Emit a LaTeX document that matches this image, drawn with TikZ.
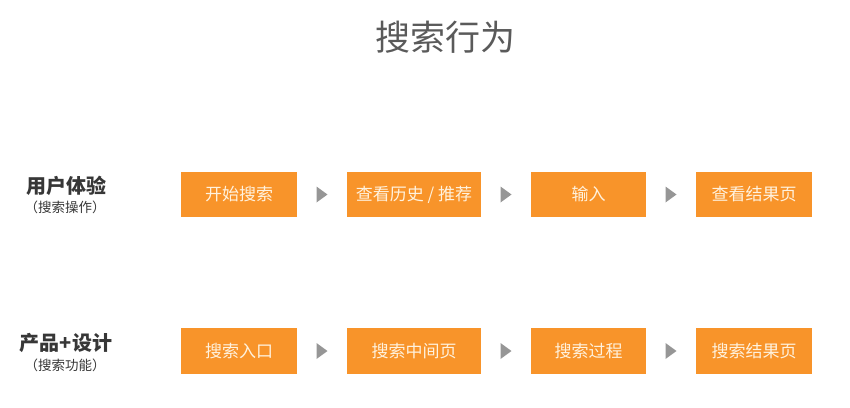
\documentclass[tikz,border=0pt]{standalone}
\usepackage{fontspec}
\usepackage{xcolor}
\setmainfont{Noto Sans CJK SC}
\usetikzlibrary{calc}

\definecolor{boxorange}{RGB}{248,148,42}
\definecolor{boxtext}{RGB}{255,242,222}
\definecolor{titlegray}{RGB}{90,90,90}
\definecolor{labelgray}{RGB}{55,55,55}
\definecolor{pointergray}{RGB}{150,150,150}

\tikzset{
  stepbox/.style={fill=boxorange, text=boxtext, minimum height=45.5pt, inner sep=0pt, font=\fontsize{17}{17}\selectfont},
  rowlabel/.style={text=labelgray, inner sep=0pt, font=\bfseries\fontsize{20}{20}\selectfont},
  rowsub/.style={text=labelgray, inner sep=0pt, font=\fontsize{13.5}{13.5}\selectfont},
  pointer/.style={fill=pointergray}
}

\begin{document}
\begin{tikzpicture}[x=1pt, y=-1pt]
    \useasboundingbox (0,0) rectangle (850,407);

    % Title
    \node[text=titlegray, font=\fontsize{35}{35}\selectfont] (title) at (445,37) {搜索行为};

    % Row labels
    \node[rowlabel] (ux) at (66,186) {用户体验};
    \node[rowsub] (uxsub) at (65,207.5) {（搜索操作）};
    \node[rowlabel] (pd) at (66,342.5) {产品+设计};
    \node[rowsub] (pdsub) at (65,365) {（搜索功能）};

    % First row
    \node[stepbox, minimum width=116pt] (s1) at (239,194.5) {开始搜索};
    \node[stepbox, minimum width=134pt] (s2) at (414,194.5) {查看历史 / 推荐};
    \node[stepbox, minimum width=115pt] (s3) at (588.5,194.5) {输入};
    \node[stepbox, minimum width=116pt] (s4) at (754,194.5) {查看结果页};

    % Second row
    \node[stepbox, minimum width=116pt] (p1) at (239,351) {搜索入口};
    \node[stepbox, minimum width=134pt] (p2) at (414,351) {搜索中间页};
    \node[stepbox, minimum width=115pt] (p3) at (588.5,351) {搜索过程};
    \node[stepbox, minimum width=116pt] (p4) at (754,351) {搜索结果页};

    % Pointers between the boxes
    \coordinate (a1) at ($(s1.east)!0.5!(s2.west)$);
    \coordinate (a2) at ($(s2.east)!0.5!(s3.west)$);
    \coordinate (a3) at ($(s3.east)!0.5!(s4.west)$);
    \coordinate (b1) at ($(p1.east)!0.5!(p2.west)$);
    \coordinate (b2) at ($(p2.east)!0.5!(p3.west)$);
    \coordinate (b3) at ($(p3.east)!0.5!(p4.west)$);

    \fill[pointer] (a1) ++(-5.5,-8) -- ++(11,8) -- ++(-11,8) -- cycle;
    \fill[pointer] (a2) ++(-5.5,-8) -- ++(11,8) -- ++(-11,8) -- cycle;
    \fill[pointer] (a3) ++(-5.5,-8) -- ++(11,8) -- ++(-11,8) -- cycle;
    \fill[pointer] (b1) ++(-5.5,-8) -- ++(11,8) -- ++(-11,8) -- cycle;
    \fill[pointer] (b2) ++(-5.5,-8) -- ++(11,8) -- ++(-11,8) -- cycle;
    \fill[pointer] (b3) ++(-5.5,-8) -- ++(11,8) -- ++(-11,8) -- cycle;

\end{tikzpicture}
\end{document}
